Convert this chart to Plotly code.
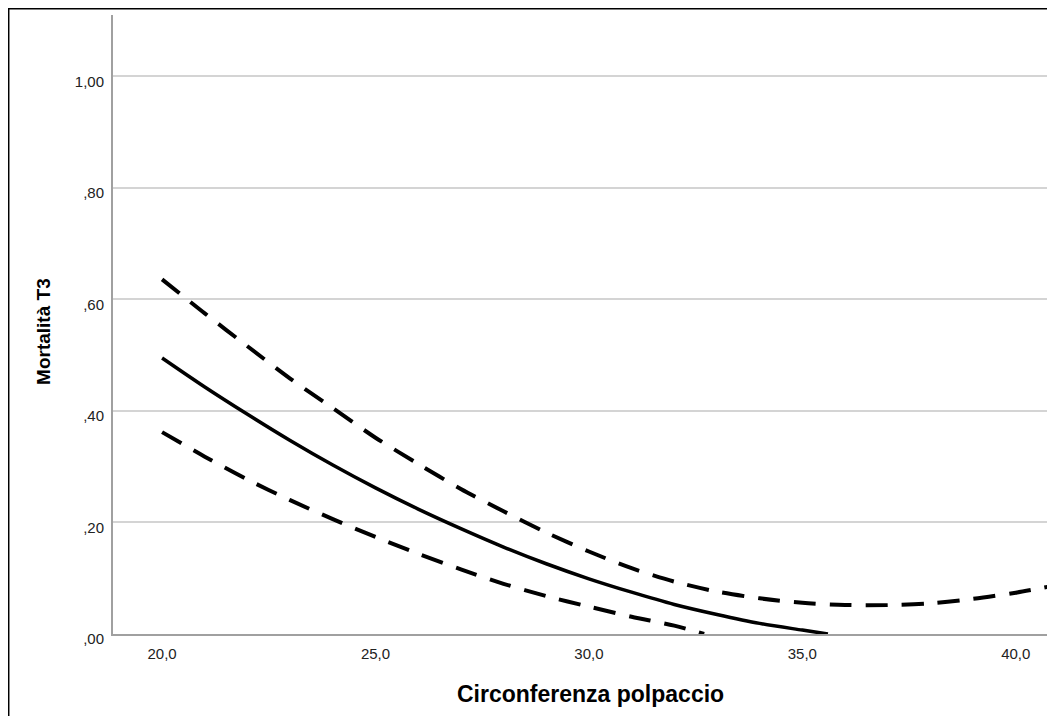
import plotly.graph_objects as go

# Data
x_fit = [20, 21, 22, 23, 24, 25, 26, 27, 28, 29, 30, 31, 32, 33, 34, 35, 35.6]
y_fit = [0.495, 0.443, 0.394, 0.347, 0.303, 0.262, 0.224, 0.189, 0.156, 0.126,
         0.099, 0.075, 0.053, 0.035, 0.019, 0.007, 0.0]

x_upper = [20, 21, 22, 23, 24, 25, 26, 27, 28, 29, 30, 31, 32, 33, 34, 35,
           36, 37, 38, 39, 40, 40.92]
y_upper = [0.636, 0.575, 0.516, 0.458, 0.405, 0.352, 0.305, 0.260, 0.220, 0.182,
           0.148, 0.118, 0.094, 0.076, 0.064, 0.056, 0.052, 0.052, 0.055, 0.063,
           0.074, 0.087]

x_lower = [20, 21, 22, 23, 24, 25, 26, 27, 28, 29, 30, 31, 32, 32.7]
y_lower = [0.362, 0.318, 0.277, 0.240, 0.206, 0.174, 0.144, 0.116, 0.090, 0.068,
           0.049, 0.031, 0.015, 0.0]

x_tickvals = [20, 25, 30, 35, 40]
x_ticktext = ["20,0", "25,0", "30,0", "35,0", "40,0"]
y_tickvals = [0, 0.2, 0.4, 0.6, 0.8, 1.0]
y_ticktext = [",00", ",20", ",40", ",60", ",80", "1,00"]

x_title = "Circonferenza polpaccio"
y_title = "Mortalità T3"

FONT = "Liberation Sans, Arial, sans-serif"

fig = go.Figure()
fig.add_trace(go.Scatter(x=x_upper, y=y_upper, mode="lines",
                         line=dict(color="black", width=4, dash="22px,14px",
                                   shape="spline", smoothing=0.8),
                         showlegend=False, hoverinfo="skip"))
fig.add_trace(go.Scatter(x=x_lower, y=y_lower, mode="lines",
                         line=dict(color="black", width=4, dash="22px,14px",
                                   shape="spline", smoothing=0.8),
                         showlegend=False, hoverinfo="skip"))
fig.add_trace(go.Scatter(x=x_fit, y=y_fit, mode="lines",
                         line=dict(color="black", width=3.5,
                                   shape="spline", smoothing=0.8),
                         showlegend=False, hoverinfo="skip"))

fig.update_layout(
    width=1047, height=708,
    margin=dict(l=105, r=0, t=7, b=82),
    paper_bgcolor="white", plot_bgcolor="white",
    font=dict(family=FONT, size=15, color="#222222"),
    xaxis=dict(range=[18.85, 40.92], tickvals=x_tickvals, ticktext=x_ticktext,
               showgrid=False, zeroline=False, showline=True,
               linecolor="#a0a0a0", linewidth=2, ticks="",
               ticklabelstandoff=5, tickfont=dict(size=15, color="#222222")),
    yaxis=dict(range=[0, 1.11], tickvals=y_tickvals, ticktext=y_ticktext,
               showgrid=True, gridcolor="#d4d4d4", gridwidth=1.5,
               zeroline=False, showline=True, linecolor="#a0a0a0", linewidth=2,
               ticks="", ticklabelstandoff=4, ticklabelshift=5,
               tickfont=dict(size=15, color="#222222")),
    annotations=[
        dict(text="<b>" + x_title + "</b>", xref="paper", yref="paper",
             x=0.5074, y=0, xanchor="center", yanchor="middle", yshift=-60,
             showarrow=False, font=dict(family=FONT, size=23, color="black")),
        dict(text="<b>" + y_title + "</b>", xref="paper", yref="paper",
             x=0, y=0.488, xshift=-69, xanchor="center", yanchor="middle",
             textangle=-90, showarrow=False,
             font=dict(family=FONT, size=19, color="black")),
    ],
    shapes=[
        dict(type="line", xref="paper", yref="paper",
             x0=-0.2, x1=1.2, y0=1.0113, y1=1.0113,
             line=dict(color="black", width=3)),
        dict(type="line", xref="paper", yref="paper",
             x0=-0.1115, x1=-0.1115, y0=-0.3, y1=1.2,
             line=dict(color="black", width=3)),
    ],
)

fig.write_html("out.html")
